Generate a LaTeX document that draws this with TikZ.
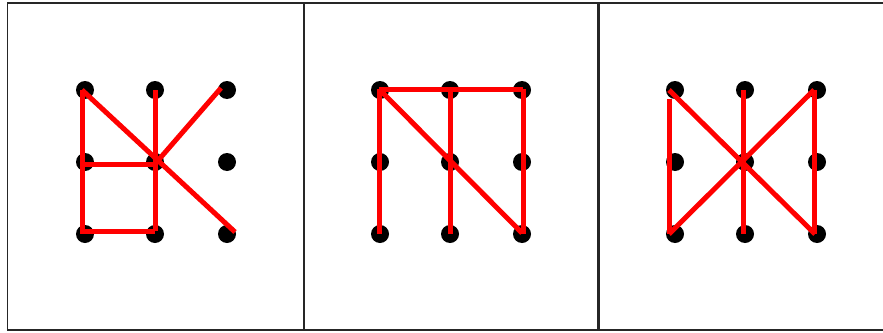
\documentclass[tikz,border=0pt]{standalone}
\begin{document}
\begin{tikzpicture}[x=1pt,y=-1pt,
  dotnode/.style={circle,fill=black,inner sep=0pt,minimum size=18pt},
  redline/.style={draw=red,line width=5pt},
  frameline/.style={draw=black!85,line width=1.6pt}]
\useasboundingbox (0,0) rectangle (883,332);
% frame
\coordinate (ftl) at (7.5,3);
\coordinate (ftr) at (883,3);
\coordinate (fbl) at (7.5,330);
\coordinate (fbr) at (883,330);
\coordinate (d1t) at (304,3);
\coordinate (d1b) at (304,330);
\coordinate (d2t) at (598.5,3);
\coordinate (d2b) at (598.5,330);
\draw[frameline] (ftr) -- (ftl) -- (fbl) -- (fbr);
\draw[frameline] (d1t) -- (d1b);
\draw[frameline,line width=2.4pt] (d2t) -- (d2b);
% dots
\foreach \p/\x in {a/0,b/295,c/590}{
  \foreach \c/\dx in {1/85,2/155,3/227}{
    \foreach \r/\y in {1/90,2/162,3/234}{
      \node[dotnode] (\p\r\c) at (\x+\dx,\y) {};
    }
  }
}
% panel 1
\draw[redline] ([xshift=-3pt]a11.center) -- ([xshift=-3pt]a31.center);
\draw[redline] ([xshift=-3pt]a11.center) -- ([xshift=8pt,yshift=2pt]a33.center);
\draw[redline] ([xshift=-3pt,yshift=-2pt]a21.center) -- ([yshift=-2pt]a22.center);
\draw[redline] (a12.center) -- ([yshift=3pt]a32.center);
\draw[redline] ([xshift=-3pt,yshift=3pt]a31.center) -- ([yshift=3pt]a32.center);
\draw[redline] ([yshift=-2pt]a22.center) -- ([xshift=-6pt,yshift=2pt]a13.center);
% panel 2
\draw[redline] ([xshift=-1pt,yshift=1pt]b11.center) -- ([xshift=1pt,yshift=1pt]b13.center);
\draw[redline] ([xshift=-1pt,yshift=1pt]b11.center) -- ([xshift=-1pt]b31.center);
\draw[redline] ([yshift=1pt]b12.center) -- (b32.center);
\draw[redline] ([xshift=-1pt,yshift=1pt]b11.center) -- ([yshift=1pt]b33.center);
\draw[redline] ([xshift=1pt,yshift=1pt]b13.center) -- ([xshift=1pt]b33.center);
% panel 3
\draw[redline] ([xshift=-6pt,yshift=-9pt]c11.center) -- ([xshift=-6pt]c31.center);
\draw[redline] ([xshift=-6pt]c11.center) -- ([xshift=-2pt]c33.center);
\draw[redline] ([xshift=-6pt]c31.center) -- ([xshift=-3pt]c13.center);
\draw[redline] ([xshift=-3pt]c13.center) -- ([xshift=-3pt]c33.center);
\draw[redline] ([xshift=-2pt]c12.center) -- ([xshift=-2pt]c32.center);
\end{tikzpicture}
\end{document}
